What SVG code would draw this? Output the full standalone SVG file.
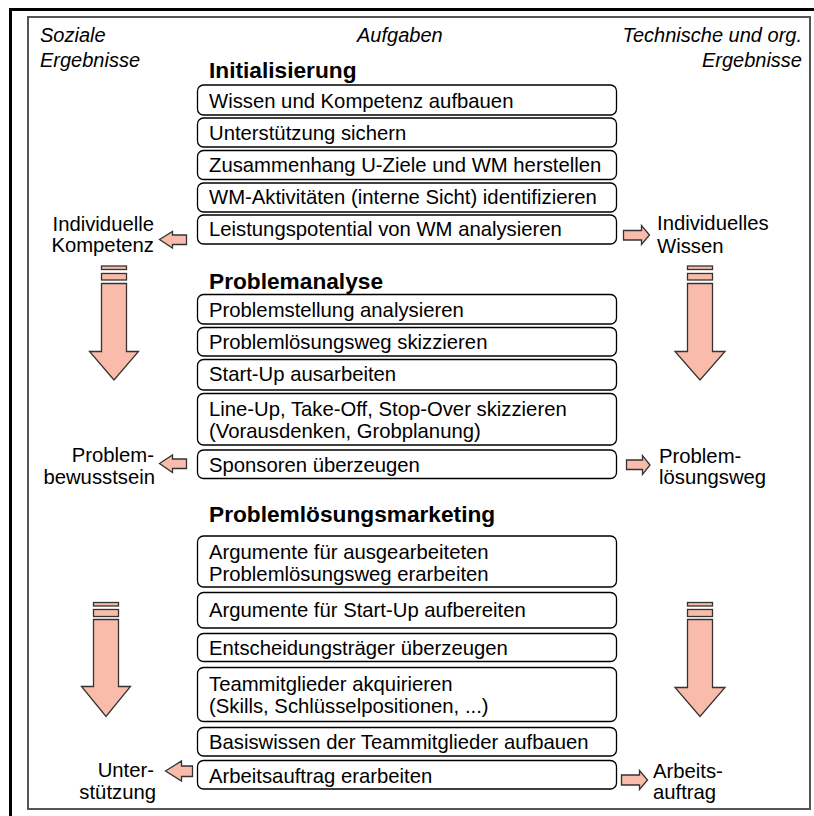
<svg xmlns="http://www.w3.org/2000/svg" width="814" height="816" viewBox="0 0 814 816">
<style>
.box{fill:#fff;stroke:#000;stroke-width:1.3}
.t{font-family:"Liberation Sans",Arial,sans-serif;font-size:20.3px;fill:#000}
.h{font-family:"Liberation Sans",Arial,sans-serif;font-size:22.7px;font-weight:bold;fill:#000}
.i{font-family:"Liberation Sans",Arial,sans-serif;font-size:20px;font-style:italic;fill:#000}
.arr{fill:#F9BCAA;stroke:#333;stroke-width:1.3;stroke-linejoin:miter}
.end{text-anchor:end}
</style>
<rect width="814" height="816" fill="#fff"/>
<path d="M10.5,816 V9.5 H814" fill="none" stroke="#000" stroke-width="3"/>
<rect x="28" y="17" width="782" height="792" fill="none" stroke="#555" stroke-width="2"/>

<g id="column-headers">
<text class="i" x="40" y="42">Soziale</text>
<text class="i" x="40" y="67">Ergebnisse</text>
<text class="i" x="357" y="42">Aufgaben</text>
<text class="i end" x="802" y="42">Technische und org.</text>
<text class="i end" x="802" y="67">Ergebnisse</text>
</g>

<g id="phase-initialisierung">
<text class="h" x="209" y="78">Initialisierung</text>
<g id="task-1-1"><rect class="box" x="197.5" y="85" width="419" height="30" rx="6"/><text class="t" x="209" y="108">Wissen und Kompetenz aufbauen</text></g>
<g id="task-1-2"><rect class="box" x="197.5" y="118" width="419" height="29" rx="6"/><text class="t" x="209" y="140">Unterstützung sichern</text></g>
<g id="task-1-3"><rect class="box" x="197.5" y="150.5" width="419" height="29" rx="6"/><text class="t" x="209" y="172">Zusammenhang U-Ziele und WM herstellen</text></g>
<g id="task-1-4"><rect class="box" x="197.5" y="183" width="419" height="29" rx="6"/><text class="t" x="209" y="204">WM-Aktivitäten (interne Sicht) identifizieren</text></g>
<g id="task-1-5"><rect class="box" x="197.5" y="215" width="419" height="29" rx="6"/><text class="t" x="209" y="236">Leistungspotential von WM analysieren</text></g>
</g>

<g id="phase-problemanalyse">
<text class="h" x="209" y="289">Problemanalyse</text>
<g id="task-2-1"><rect class="box" x="197.5" y="294.5" width="419" height="29.5" rx="6"/><text class="t" x="209" y="316.5">Problemstellung analysieren</text></g>
<g id="task-2-2"><rect class="box" x="197.5" y="327.5" width="419" height="28.5" rx="6"/><text class="t" x="209" y="349">Problemlösungsweg skizzieren</text></g>
<g id="task-2-3"><rect class="box" x="197.5" y="359.5" width="419" height="30.5" rx="6"/><text class="t" x="209" y="381">Start-Up ausarbeiten</text></g>
<g id="task-2-4"><rect class="box" x="197.5" y="393.5" width="419" height="51.5" rx="6"/><text class="t" x="209" y="415.5">Line-Up, Take-Off, Stop-Over skizzieren</text><text class="t" x="209" y="438">(Vorausdenken, Grobplanung)</text></g>
<g id="task-2-5"><rect class="box" x="197.5" y="450" width="419" height="28.5" rx="6"/><text class="t" x="209" y="471.5">Sponsoren überzeugen</text></g>
</g>

<g id="phase-marketing">
<text class="h" x="209" y="522">Problemlösungsmarketing</text>
<g id="task-3-1"><rect class="box" x="197.5" y="536" width="419" height="51" rx="6"/><text class="t" x="209" y="558.5">Argumente für ausgearbeiteten</text><text class="t" x="209" y="581">Problemlösungsweg erarbeiten</text></g>
<g id="task-3-2"><rect class="box" x="197.5" y="592.5" width="419" height="35.5" rx="6"/><text class="t" x="209" y="616.5">Argumente für Start-Up aufbereiten</text></g>
<g id="task-3-3"><rect class="box" x="197.5" y="633.5" width="419" height="28" rx="6"/><text class="t" x="209" y="655">Entscheidungsträger überzeugen</text></g>
<g id="task-3-4"><rect class="box" x="197.5" y="667.5" width="419" height="54" rx="6"/><text class="t" x="209" y="690.5">Teammitglieder akquirieren</text><text class="t" x="209" y="713">(Skills, Schlüsselpositionen, ...)</text></g>
<g id="task-3-5"><rect class="box" x="197.5" y="727.5" width="419" height="28.5" rx="6"/><text class="t" x="209" y="748.5">Basiswissen der Teammitglieder aufbauen</text></g>
<g id="task-3-6"><rect class="box" x="197.5" y="760.5" width="419" height="28.5" rx="6"/><text class="t" x="209" y="782.5">Arbeitsauftrag erarbeiten</text></g>
</g>

<g id="result-individuelle-kompetenz"><text class="t end" x="154" y="231">Individuelle</text><text class="t end" x="154" y="252">Kompetenz</text></g>
<g id="result-individuelles-wissen"><text class="t" x="657" y="230">Individuelles</text><text class="t" x="657" y="253">Wissen</text></g>
<g id="result-problembewusstsein"><text class="t end" x="154" y="462">Problem-</text><text class="t end" x="155" y="483.5">bewusstsein</text></g>
<g id="result-problemloesungsweg"><text class="t" x="659" y="463">Problem-</text><text class="t" x="659" y="484">lösungsweg</text></g>
<g id="result-unterstuetzung"><text class="t end" x="154" y="777">Unter-</text><text class="t end" x="156" y="799">stützung</text></g>
<g id="result-arbeitsauftrag"><text class="t" x="653" y="778">Arbeits-</text><text class="t" x="653" y="799">auftrag</text></g>

<g id="connectors">
<polygon class="arr" points="159.5,239.5 172.5,231.5 172.5,235 186.5,235 186.5,244.5 172.5,244.5 172.5,248"/>
<polygon class="arr" points="649.5,235 641.5,225.5 641.5,230.5 623.5,230.5 623.5,240 641.5,240 641.5,244.5"/>
<polygon class="arr" points="159.5,463.5 172.5,455 172.5,459 186.5,459 186.5,468.5 172.5,468.5 172.5,472.5"/>
<polygon class="arr" points="650,465 642.5,455.5 642.5,460 626.5,460 626.5,469.5 642.5,469.5 642.5,474.5"/>
<polygon class="arr" points="165.5,771 181.5,761 181.5,766 192.5,766 192.5,776.5 181.5,776.5 181.5,781"/>
<polygon class="arr" points="647.5,780 639.5,770.5 639.5,775 621.5,775 621.5,785 639.5,785 639.5,789.5"/>

<rect class="arr" x="101.5" y="266" width="25" height="3.5"/>
<rect class="arr" x="101.5" y="273.5" width="25" height="6.5"/>
<path class="arr" d="M101.5,283.5 H126.5 V351.5 H138.5 L114,380 L89.5,351.5 H101.5 Z"/>

<rect class="arr" x="687.5" y="266" width="25" height="3.5"/>
<rect class="arr" x="687.5" y="273.5" width="25" height="6.5"/>
<path class="arr" d="M687.5,283.5 H712.5 V351.5 H725 L700,380 L675,351.5 H687.5 Z"/>

<rect class="arr" x="93.5" y="602.5" width="25" height="3.5"/>
<rect class="arr" x="93.5" y="609.5" width="25" height="7"/>
<path class="arr" d="M93.5,619.5 H118.5 V686.5 H130.5 L106,716.5 L81.5,686.5 H93.5 Z"/>

<rect class="arr" x="687.5" y="602.5" width="25" height="3.5"/>
<rect class="arr" x="687.5" y="609.5" width="25" height="7"/>
<path class="arr" d="M687.5,619.5 H712.5 V687.5 H725 L700,716.5 L675,687.5 H687.5 Z"/>
</g>
</svg>
